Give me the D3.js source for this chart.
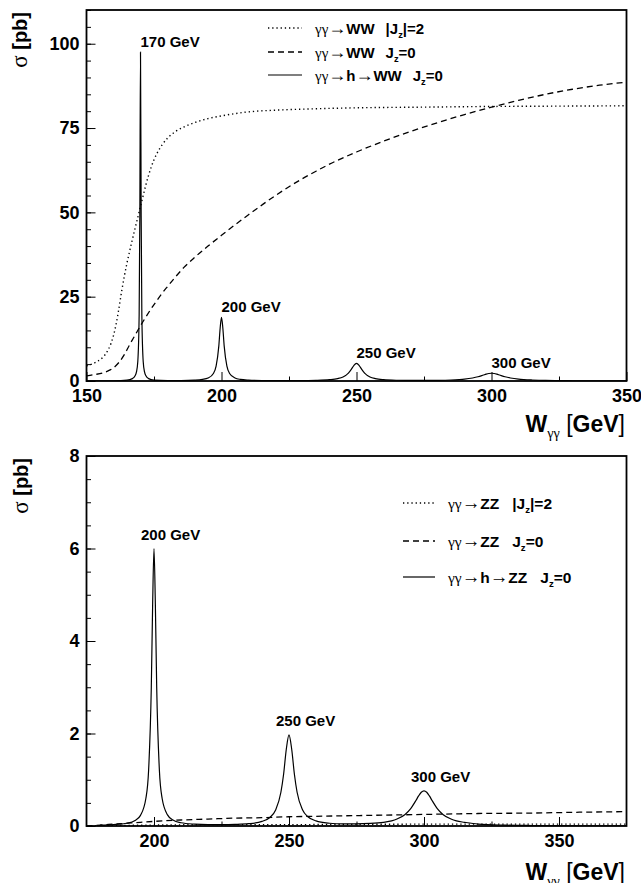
<!DOCTYPE html>
<html><head><meta charset="utf-8">
<script src="https://cdn.jsdelivr.net/npm/d3@7"></script>
<style>body{margin:0;background:#fff} svg{display:block}</style>
</head><body><svg id="c" width="641" height="883"></svg>
<script>
// ---------- data: top panel (gamma gamma -> WW) ----------
const wwJz2X = [150,152,154,156,157,158,159,160,161,162,163,164,165,166,167,168,169,170,171,172,173,174,175,176,178,180,183,186,190,195,200,210,220,230,250,275,300,325,350];
const wwJz2Y = [4.5,5.0,5.8,7.0,7.9,9.2,11.0,13.5,17.0,21.5,26.5,31.0,35.0,38.6,42.0,45.3,48.5,51.8,55.0,58.2,61.0,63.5,65.6,67.3,70.0,72.0,74.0,75.3,76.6,77.8,78.6,79.8,80.3,80.6,81.0,81.2,81.4,81.5,81.6];
const wwJz0X = [150,153,156,158,160,162,164,166,168,170,172,174,176,178,180,183,186,190,195,200,205,210,215,220,225,230,235,240,250,260,270,280,290,300,310,320,330,340,350];
const wwJz0Y = [1.5,1.9,2.4,3.0,3.9,5.5,7.8,10.8,13.6,16.4,19.0,21.5,23.8,26.0,28.0,30.9,33.6,36.6,40.0,43.2,46.3,49.3,52.2,55.0,57.6,60.0,62.2,64.3,67.9,71.1,74.0,76.6,79.0,81.2,83.2,85.0,86.5,87.7,88.6];
const hwwX = [150,160,165,167,168,168.5,169,169.5,169.75,170,170.25,170.5,171,171.5,172,173,175,180,185,190,193,195,197,198,199,199.5,200,200.5,201,202,203,205,207,210,215,220,225,230,235,240,243,245,247,248,249,250,251,252,253,255,257,260,265,270,275,280,285,288,290,293,295,297,298,299,300,301,302,303,305,307,310,312,315,320,330,340,350];
const hwwY = [0.02,0.08,0.26,0.70,1.54,2.68,5.78,19.5,48.8,97.5,48.8,19.5,5.78,2.68,1.54,0.70,0.26,0.12,0.13,0.24,0.47,0.88,2.24,4.39,10.35,15.66,18.9,15.66,10.35,4.39,2.24,0.90,0.47,0.25,0.13,0.10,0.10,0.12,0.18,0.38,0.70,1.2,2.33,3.35,4.57,5.2,4.57,3.35,2.33,1.2,0.71,0.40,0.22,0.17,0.17,0.20,0.30,0.43,0.56,0.90,1.26,1.77,2.03,2.23,2.3,2.23,2.03,1.77,1.26,0.90,0.56,0.43,0.30,0.16,0.075,0.043,0.028];
const wwPeaks = [170,200,250,300];
const wwPeakLabels = ["170 GeV","200 GeV","250 GeV","300 GeV"];
const wwXTicks = [150,200,250,300,350];
const wwYTicks = [0,25,50,75,100];

// ---------- data: bottom panel (gamma gamma -> ZZ) ----------
const zzJz2X = [175,185,200,225,250,300,375];
const zzJz2Y = [0.0,0.01,0.02,0.03,0.03,0.04,0.04];
const zzJz0X = [175,180,185,190,195,200,210,220,230,240,250,260,270,280,290,300,320,340,360,375];
const zzJz0Y = [0.0,0.02,0.04,0.06,0.08,0.10,0.13,0.15,0.17,0.18,0.20,0.21,0.22,0.23,0.24,0.25,0.27,0.28,0.30,0.31];
const hzzX = [180,185,190,193,195,197,198,199,199.5,200,200.5,201,202,203,205,207,210,215,220,225,230,235,240,243,245,247,248,249,250,251,252,253,255,257,260,265,270,275,280,285,288,290,293,295,297,298,299,300,301,302,303,305,307,310,312,315,320,330,340,350,360,375];
const hzzY = [0.02,0.03,0.06,0.12,0.23,0.6,1.2,3.0,4.8,6.0,4.8,3.0,1.2,0.6,0.24,0.13,0.07,0.04,0.03,0.03,0.035,0.05,0.10,0.19,0.34,0.73,1.12,1.66,1.97,1.66,1.12,0.73,0.35,0.20,0.11,0.06,0.045,0.045,0.055,0.08,0.11,0.15,0.25,0.37,0.55,0.65,0.73,0.76,0.73,0.65,0.55,0.37,0.25,0.15,0.11,0.08,0.041,0.019,0.011,0.007,0.005,0.003];
const zzPeaks = [200,250,300];
const zzPeakLabels = ["200 GeV","250 GeV","300 GeV"];
const zzXTicks = [200,250,300,350];
const zzYTicks = [0,2,4,6,8];

// ---------- drawing ----------
const SANS = "'Liberation Sans', Arial, Helvetica, sans-serif";
const SERIF = "'Liberation Serif', 'Times New Roman', serif";
const svg = d3.select("#c");
const styles = {
  dot:  {dash:"1.3,2.9", w:1.4},
  dash: {dash:"6,4", w:1.3},
  solid:{dash:null, w:1.2}
};

function rich(sel, parts, size) {
  parts.forEach(p => {
    const t = sel.append("tspan").text(p.t)
      .attr("font-family", p.serif ? SERIF : SANS)
      .attr("font-weight", p.bold ? "bold" : "normal")
      .attr("font-size", p.sub ? size * 0.62 : (p.scale ? size * p.scale : size));
    if (p.sub) t.attr("dy", size * 0.28);
    if (p.back) t.attr("dy", -size * 0.28);
  });
}

function panel(cfg, idx) {
  const x = d3.scaleLinear().domain(cfg.xDom).range([86.5, 626.5]);
  const y = d3.scaleLinear().domain(cfg.yDom).range([cfg.yBot, cfg.yTop]);
  const g = svg.append("g");
  const cid = "clip" + idx;
  svg.append("clipPath").attr("id", cid).append("rect")
    .attr("x", 86.5).attr("y", cfg.yTop).attr("width", 540).attr("height", cfg.yBot - cfg.yTop);

  const line = d3.line().x(d => x(d[0])).y(d => y(d[1])).curve(d3.curveMonotoneX);
  cfg.series.forEach(s => {
    const st = styles[s.style];
    g.append("path").datum(d3.zip(s.x, s.y))
      .attr("d", line).attr("fill", "none").attr("stroke", "#000")
      .attr("stroke-width", st.w).attr("stroke-dasharray", st.dash)
      .attr("clip-path", `url(#${cid})`);
  });

  g.append("g").attr("transform", "translate(86.5,0)")
    .call(d3.axisLeft(y).tickValues(cfg.yTicks).tickSize(-9).tickPadding(7).tickFormat(d3.format("d")));
  g.append("g").attr("transform", "translate(86.5,0)")
    .call(d3.axisLeft(y).ticks(cfg.yMinor).tickSize(-4.5).tickFormat(""));
  g.append("g").attr("transform", `translate(0,${cfg.yBot})`)
    .call(d3.axisBottom(x).tickValues(cfg.xTicks).tickSize(-9).tickPadding(8).tickFormat(d3.format("d")));
  g.append("g").attr("transform", `translate(0,${cfg.yBot})`)
    .call(d3.axisBottom(x).tickValues(cfg.xMinor).tickSize(-4.5).tickFormat(""));
  g.selectAll(".domain").remove();
  g.selectAll(".tick line").attr("stroke", "#000").attr("stroke-width", 1);
  g.selectAll(".tick text").attr("font-family", SANS).attr("font-weight", "bold")
    .attr("font-size", 18).attr("fill", "#000");

  g.append("rect").attr("x", 86.5).attr("y", cfg.yTop).attr("width", 540)
    .attr("height", cfg.yBot - cfg.yTop).attr("fill", "none").attr("stroke", "#000").attr("stroke-width", 1.8);

  cfg.peaks.forEach((p, i) => {
    const xi = cfg.series[2].x.indexOf(p);
    const v = cfg.series[2].y[xi];
    g.append("text").attr("x", x(p) + cfg.labDx).attr("y", y(v) - cfg.labDy)
      .attr("font-family", SANS).attr("font-weight", "bold").attr("font-size", 15)
      .text(cfg.peakLabels[i]);
  });

  cfg.legend.forEach((L, i) => {
    const ly = cfg.legY[i];
    const st = styles[L.style];
    g.append("line").attr("x1", cfg.legX0).attr("x2", cfg.legX1).attr("y1", ly).attr("y2", ly)
      .attr("stroke", "#000").attr("stroke-width", st.w).attr("stroke-dasharray", st.dash);
    const t1 = g.append("text").attr("x", cfg.legT).attr("y", ly + 5.5);
    rich(t1, L.a, cfg.legFont);
    const w = t1.node().getComputedTextLength();
    const t2 = g.append("text").attr("x", cfg.legT + w + cfg.legGap).attr("y", ly + 5.5);
    rich(t2, L.b, cfg.legFont);
  });

  const yt = g.append("text").attr("transform", `translate(${cfg.yTitleX},${cfg.yTitleY}) rotate(-90)`)
    .attr("text-anchor", "end");
  rich(yt, [{t:"σ", serif:true, scale:1.15}, {t:" [pb]", bold:true}], 20);

  const xt = g.append("text").attr("x", 625).attr("y", cfg.xTitleY).attr("text-anchor", "end");
  rich(xt, [{t:"W", bold:true}, {t:"γγ", serif:true, sub:true}, {t:" [", back:true}, {t:"GeV", bold:true}, {t:"]"}], 23);
}

const gg = {t:"γγ", serif:true};
const arr = {t:"→", serif:true, scale:1.2};
const jz2 = [{t:"|J",bold:true},{t:"z",bold:true,sub:true},{t:"|=2",bold:true,back:true}];
const jz0 = [{t:"J",bold:true},{t:"z",bold:true,sub:true},{t:"=0",bold:true,back:true}];
panel({
  xDom:[150,350], yDom:[0,110], yTop:10, yBot:381,
  xTicks: wwXTicks, xMinor:[175,225,275,325], yTicks: wwYTicks, yMinor: 22,
  series:[{x:wwJz2X,y:wwJz2Y,style:"dot"},{x:wwJz0X,y:wwJz0Y,style:"dash"},{x:hwwX,y:hwwY,style:"solid"}],
  peaks: wwPeaks, peakLabels: wwPeakLabels, labDx:0, labDy:5,
  legX0:268, legX1:302, legT:315, legY:[28,52,75], legGap:11, legFont:15,
  legend:[
    {style:"dot", a:[gg,arr,{t:"WW",bold:true}], b:jz2},
    {style:"dash", a:[gg,arr,{t:"WW",bold:true}], b:jz0},
    {style:"solid", a:[gg,arr,{t:"h",bold:true},arr,{t:"WW",bold:true}], b:jz0}
  ],
  yTitleX:27, yTitleY:12, xTitleY:432
}, 0);

panel({
  xDom:[175,375], yDom:[0,8], yTop:456, yBot:826,
  xTicks: zzXTicks, xMinor:[225,275,325], yTicks: zzYTicks, yMinor: 16,
  series:[{x:zzJz2X,y:zzJz2Y,style:"dot"},{x:zzJz0X,y:zzJz0Y,style:"dash"},{x:hzzX,y:hzzY,style:"solid"}],
  peaks: zzPeaks, peakLabels: zzPeakLabels, labDx:-13, labDy:9,
  legX0:403, legX1:435, legT:448, legY:[503,541,577], legGap:13, legFont:15.5,
  legend:[
    {style:"dot", a:[gg,arr,{t:"ZZ",bold:true}], b:jz2},
    {style:"dash", a:[gg,arr,{t:"ZZ",bold:true}], b:jz0},
    {style:"solid", a:[gg,arr,{t:"h",bold:true},arr,{t:"ZZ",bold:true}], b:jz0}
  ],
  yTitleX:28, yTitleY:458, xTitleY:880
}, 1);
</script></body></html>
